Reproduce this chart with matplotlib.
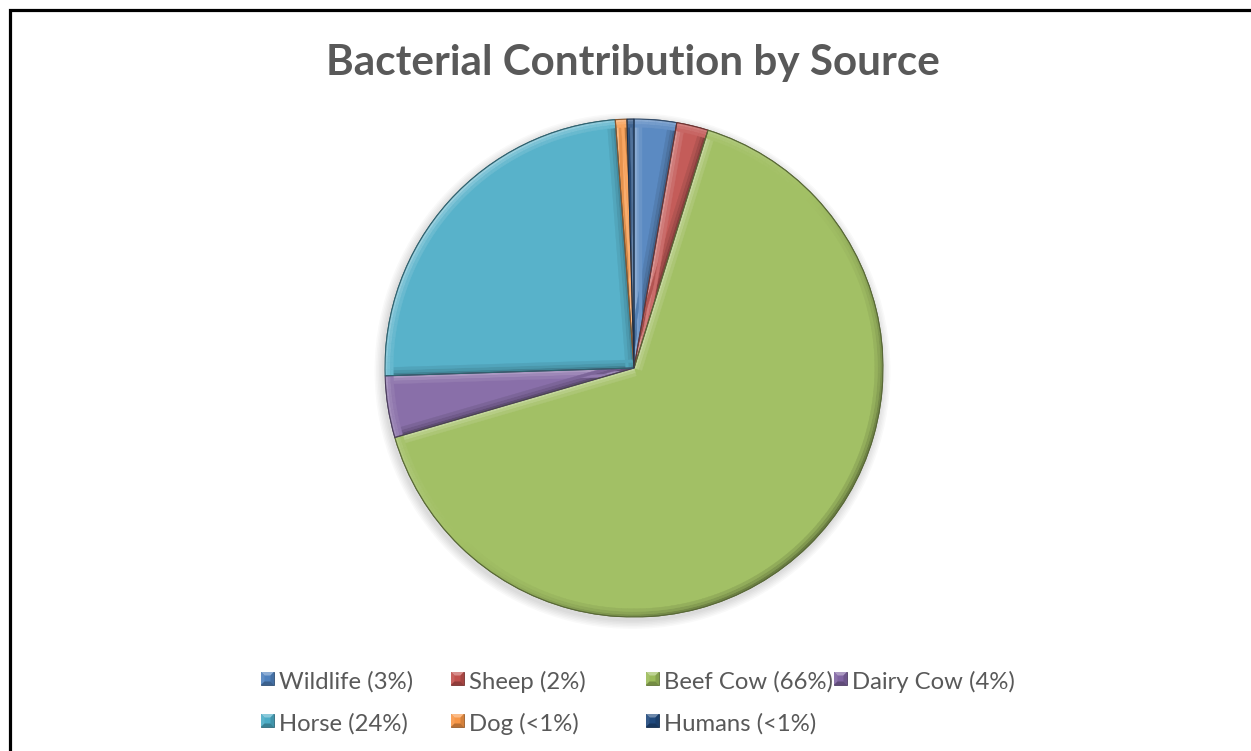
import matplotlib
matplotlib.use('Agg')
import matplotlib.pyplot as plt
import numpy as np
from matplotlib.patches import Wedge, Polygon, Circle
import matplotlib.colors as mcolors

# ---------------- data ----------------
title = "Bacterial Contribution by Source"
categories = ["Wildlife", "Sheep", "Beef Cow", "Dairy Cow", "Horse", "Dog", "Humans"]
values = [2.75, 2.05, 65.7, 4.0, 24.3, 0.75, 0.45]
legend_labels = ["Wildlife (3%)", "Sheep (2%)", "Beef Cow (66%)", "Dairy Cow (4%)",
                 "Horse (24%)", "Dog (<1%)", "Humans (<1%)"]
colors = ["#4F81BD", "#C0504D", "#9BBB59", "#8064A2", "#4BACC6", "#F79646", "#1F497D"]

FONT = ['Lato', 'DejaVu Sans']
plt.rcParams['font.family'] = FONT

W, H = 1251, 751
fig = plt.figure(figsize=(W / 100, H / 100), dpi=100)
fig.patch.set_facecolor('white')

# overlay axes in pixel coordinates (y down)
ov = fig.add_axes([0, 0, 1, 1])
ov.set_xlim(0, W)
ov.set_ylim(H, 0)
ov.axis('off')


def mix(c, target, t):
    c = np.array(mcolors.to_rgb(c))
    target = np.array(mcolors.to_rgb(target))
    return tuple(c + (target - c) * t)


def shade(c, f, s):
    if f >= 0:
        return mix(c, 'white', 0.40 * f * s)
    return mix(c, 'black', 0.35 * (-f) * s)


LIGHT = 135.0  # light from top-left
fill_colors = [mix(c, 'white', 0.07) for c in colors]

# ---------------- pie ----------------
cx, cy, R = 634, 368, 249
ax = fig.add_axes([(cx - R) / W, (H - cy - R) / H, 2 * R / W, 2 * R / H])
ax.set_zorder(2)

# soft shadow
for i in range(1, 7):
    ax.add_patch(Circle((-0.006, -0.012), 1 + 0.006 * i, facecolor='black',
                        alpha=0.022, lw=0, zorder=0, clip_on=False))
ax.add_patch(Circle((0, 0), 1.0, facecolor='white', lw=0, zorder=0.5))

res = ax.pie(values, colors=fill_colors, startangle=90, counterclock=False, radius=1,
             wedgeprops=dict(linewidth=0.8))
wedges = res[0]

band = 0.011
for w, col in zip(wedges, fill_colors):
    w.set_edgecolor(mix(col, 'black', 0.45))
    w.set_zorder(1)
    t1, t2 = w.theta1, w.theta2
    # rim bevel
    n = max(2, int((t2 - t1) / 1.5))
    edges = np.linspace(t1, t2, n + 1)
    for layer, s in enumerate([1.0, 0.6, 0.3]):
        rout = 1 - layer * band
        for a0, a1 in zip(edges[:-1], edges[1:]):
            a = 0.5 * (a0 + a1)
            f = np.cos(np.radians(a - LIGHT))
            c = shade(col, f, s)
            p = Wedge((0, 0), rout, a0, a1, width=band, facecolor=c, edgecolor=c,
                      lw=0.3, zorder=1.2 + 0.01 * layer)
            ax.add_patch(p)
            p.set_clip_path(w)
    # radial edge bevels
    for t, nrm in [(t1, t1 - 90), (t2, t2 + 90)]:
        f = np.cos(np.radians(nrm - LIGHT))
        tr = np.radians(t)
        d = np.array([np.cos(tr), np.sin(tr)])
        nin = -np.array([np.cos(np.radians(nrm)), np.sin(np.radians(nrm))])
        for layer, s in enumerate([1.0, 0.6, 0.3]):
            o0 = layer * band
            o1 = (layer + 1) * band
            pts = [nin * o0, d * 1.0 + nin * o0, d * 1.0 + nin * o1, nin * o1]
            c = shade(col, f, s)
            p = Polygon(pts, closed=True, facecolor=c, edgecolor=c, lw=0.3,
                        zorder=1.1 + 0.01 * layer)
            ax.add_patch(p)
            p.set_clip_path(w)
    # re-draw outline on top
    ax.add_patch(Wedge((0, 0), 1, t1, t2, facecolor='none',
                       edgecolor=mix(col, 'black', 0.45), lw=0.8, zorder=1.5))

ax.set_xlim(-1, 1)
ax.set_ylim(-1, 1)
ax.set_aspect('equal')
ax.axis('off')

# ---------------- title ----------------
renderer = fig.canvas.get_renderer()
tt = ov.text(632.5, 75, title, ha='center', va='baseline', fontsize=30,
             fontweight='bold', color='#595959', family=FONT)
bb = tt.get_window_extent(renderer)
tt.set_fontsize(30 * 613.0 / bb.width)

# ---------------- legend ----------------
col_x = [261, 451, 646, 834]
row_base = [689, 731]
msz = 13
probe = ov.text(0, 0, "Sheep (2%)", fontsize=18, family=FONT)
pw = probe.get_window_extent(renderer).width
probe.remove()
lfs = 18 * 117.0 / pw

for i, (lab, col) in enumerate(zip(legend_labels, colors)):
    r, c = divmod(i, 4)
    x0 = col_x[c]
    yb = row_base[r]
    ym = yb - 10.5
    x1, ya, yb2 = x0 + msz, ym - msz / 2, ym + msz / 2
    ins = 3.5
    # pyramid-style bevel marker
    faces = [
        ([(x0, ya), (x1, ya), (x1 - ins, ya + ins), (x0 + ins, ya + ins)], 0.55),   # top
        ([(x0, ya), (x0 + ins, ya + ins), (x0 + ins, yb2 - ins), (x0, yb2)], 0.15),  # left
        ([(x1, ya), (x1, yb2), (x1 - ins, yb2 - ins), (x1 - ins, ya + ins)], -0.25),  # right
        ([(x0, yb2), (x0 + ins, yb2 - ins), (x1 - ins, yb2 - ins), (x1, yb2)], -0.45),  # bottom
    ]
    ov.add_patch(Polygon([(x0, ya), (x1, ya), (x1, yb2), (x0, yb2)], closed=True,
                         facecolor=col, edgecolor=mix(col, 'black', 0.4), lw=0.6))
    for pts, f in faces:
        cc = shade(col, np.sign(f), abs(f) * 1.6)
        ov.add_patch(Polygon(pts, closed=True, facecolor=cc, edgecolor='none', lw=0))
    ov.text(x0 + 18, yb, lab, ha='left', va='baseline', fontsize=lfs,
            color='#595959', family=FONT)

# ---------------- border ----------------
ov.plot([9.5, 9.5, W + 5], [H + 5, 9.5, 9.5], color='black', lw=2.3,
        solid_joinstyle='miter', clip_on=False)

fig.savefig('out.png', dpi=100, facecolor='white')
